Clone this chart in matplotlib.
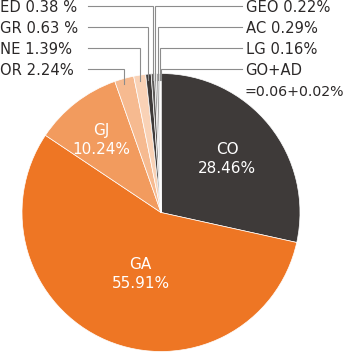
import numpy as np
import matplotlib.pyplot as plt

plt.rcParams["font.family"] = ["DejaVu Sans"]

# shares in percent, clockwise from 12 o'clock
names = ["CO", "GA", "GJ", "OR", "NE", "GR", "ED", "GEO", "AC", "LG", "GO", "AD"]
shares = [28.46, 55.91, 10.24, 2.24, 1.39, 0.63, 0.38, 0.22, 0.29, 0.16, 0.06, 0.02]
colors = ["#3e3a39", "#ee7624", "#f29b5e", "#f6ba90", "#f9d2b6", "#3e3a39",
          "#5e5b5a", "#878585", "#a6a5a5", "#c8c8c8", "#ee7624", "#f8cfb2"]

inside = ["CO", "GA", "GJ"]
left_side = ["ED", "GR", "NE", "OR"]
right_side = ["GEO", "AC", "LG", "GO+AD"]

W, H = 350, 354
cx, cy, R = 161, H - 212.5, 139

fig = plt.figure(figsize=(W / 100, H / 100), dpi=100)
ax = fig.add_axes([0, 0, 1, 1])
ax.pie(shares, colors=colors, startangle=90, counterclock=False,
       center=(cx, cy), radius=R,
       wedgeprops=dict(edgecolor="white", linewidth=0.5))
ax.set_xlim(0, W)
ax.set_ylim(0, H)
ax.set_aspect("equal")
ax.axis("off")

share = dict(zip(names, shares))
cum = np.concatenate([[0], np.cumsum(shares)])
start = dict(zip(names, cum[:-1]))


def edge_point(keys):
    # point on the rim at the middle of the given (adjacent) slices
    s0 = start[keys[0]]
    total = sum(share[k] for k in keys)
    theta = np.deg2rad(90 - 3.6 * (s0 + total / 2))
    return cx + R * np.cos(theta), cy + R * np.sin(theta)


# labels inside the big slices
inner_pos = {"CO": (227, 154, 173), "GA": (140.5, 269, 288), "GJ": (101.5, 135, 153.5)}
for k in inside:
    x, y1, y2 = inner_pos[k]
    ax.text(x, H - y1, k, color="white", fontsize=11, ha="center", va="baseline")
    ax.text(x, H - y2, f"{share[k]:.2f}%", color="white", fontsize=11,
            ha="center", va="baseline")

rows = [12.5, 33, 54, 75]
line_col = "#8c8c8c"
txt_col = "#2b2828"
fs = 10.6

for k, yb in zip(left_side, rows):
    sep = " " if k in ("ED", "GR") else ""
    ax.text(0.5, H - yb, f"{k} {share[k]:.2f}{sep}%", color=txt_col,
            fontsize=fs, ha="left", va="baseline")
    ex, ey = edge_point([k])
    ly = H - (yb - 6.5)
    ax.plot([87.5, ex, ex], [ly, ly, ey - 6], color=line_col, lw=0.8,
            solid_joinstyle="miter")

for k, yb in zip(right_side, rows):
    parts = k.split("+")
    ex, ey = edge_point(parts)
    ly = H - (yb - 6.5)
    ax.plot([242, ex, ex], [ly, ly, ey - 6], color=line_col, lw=0.8,
            solid_joinstyle="miter")
    if len(parts) == 1:
        ax.text(245.5, H - yb, f"{k} {share[k]:.2f}%", color=txt_col,
                fontsize=fs, ha="left", va="baseline")
    else:
        vals = "+".join(f"{share[p]:.2f}" for p in parts)
        ax.text(245.5, H - yb, k, color=txt_col, fontsize=fs,
                ha="left", va="baseline")
        ax.text(245, H - (yb + 20.5), f"={vals}%", color=txt_col,
                fontsize=10.2, ha="left", va="baseline")

fig.savefig("out.png", dpi=100)
